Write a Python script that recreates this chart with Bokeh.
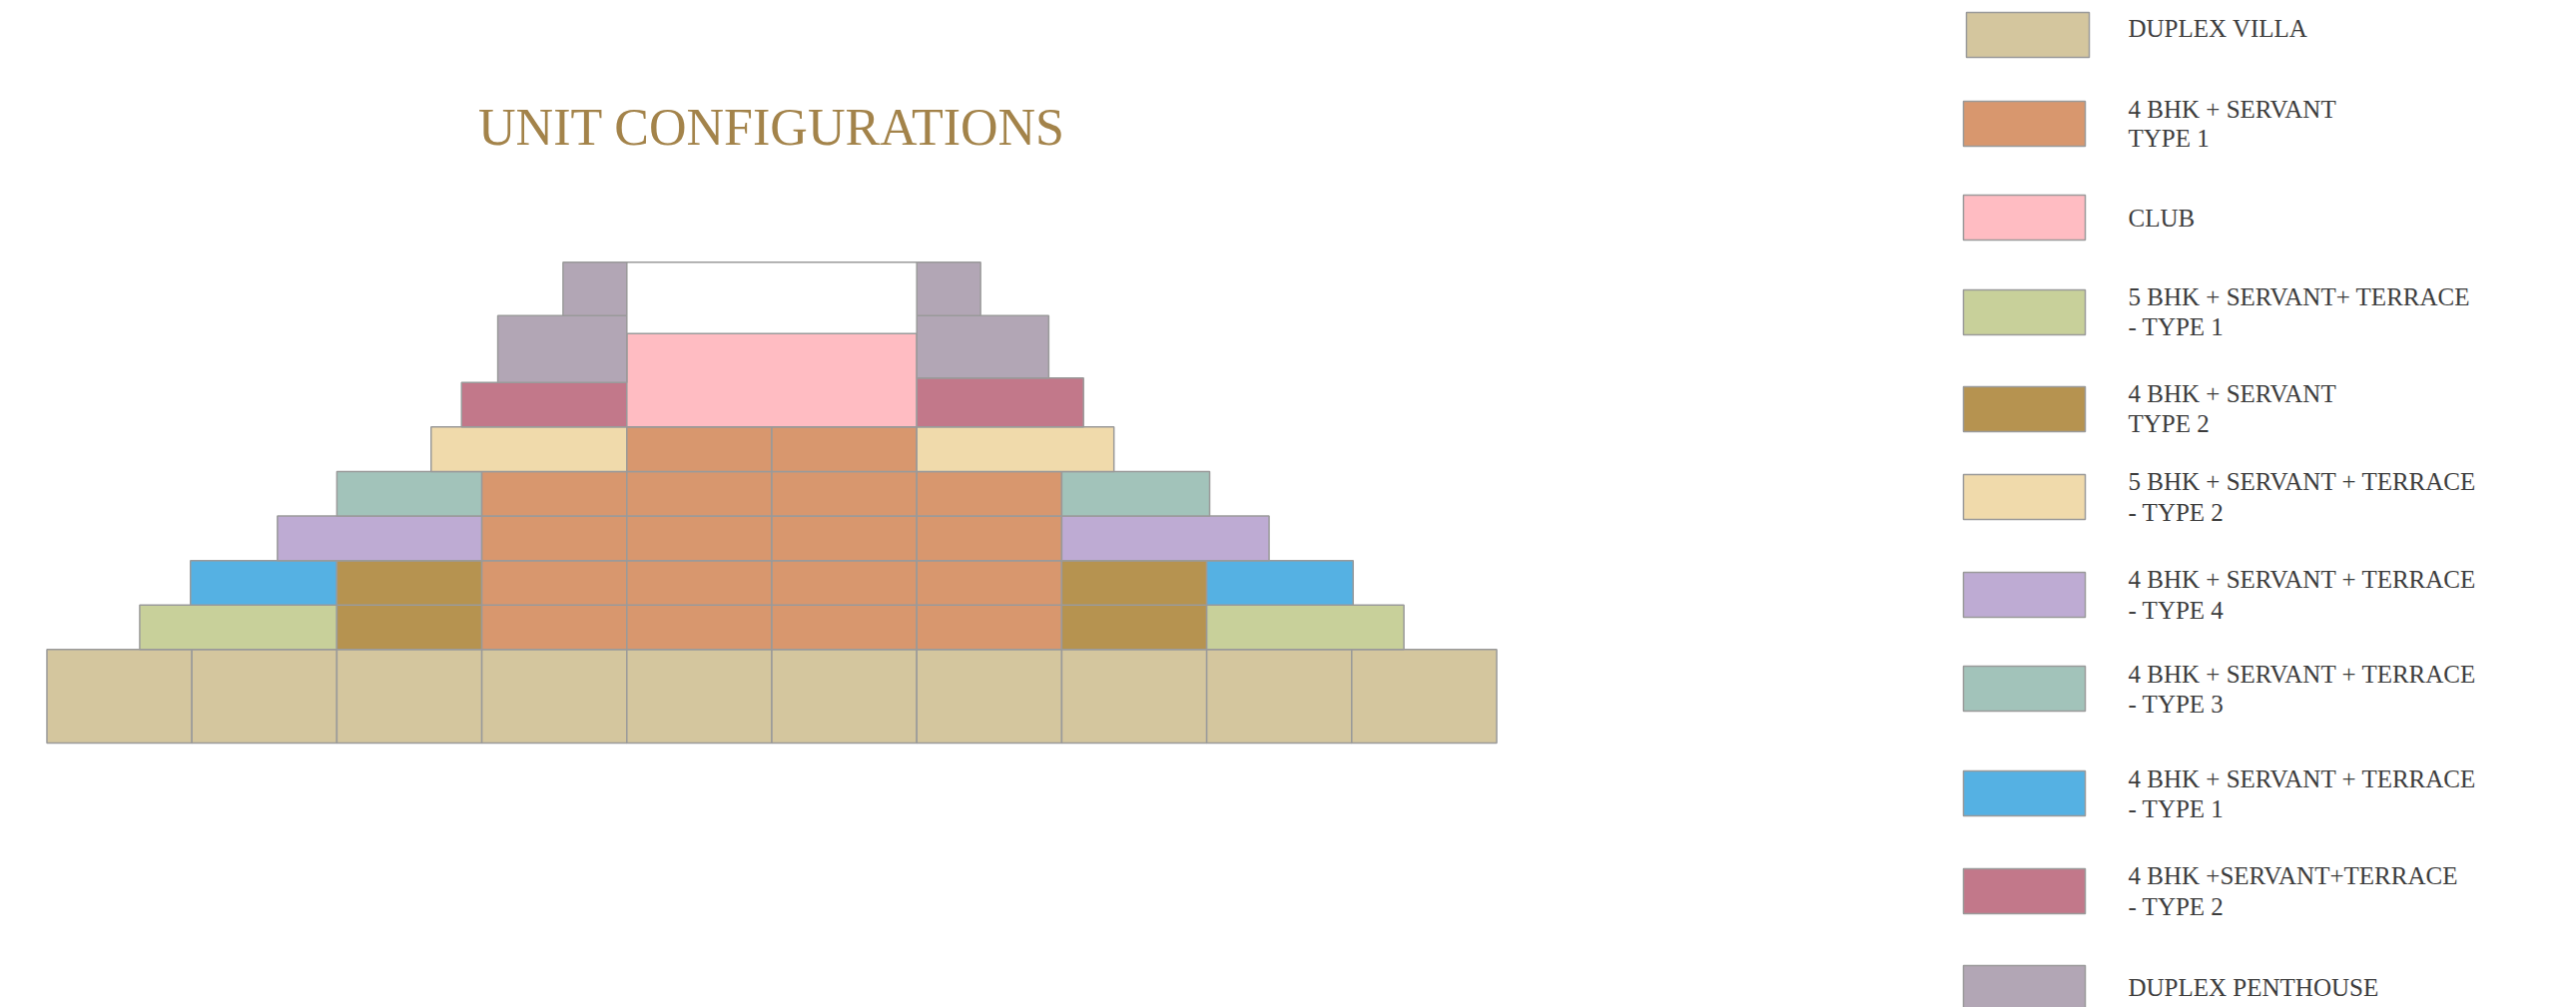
from bokeh.plotting import figure
from bokeh.models import Range1d
from bokeh.embed import file_html
from bokeh.resources import INLINE
from bokeh.core.properties import value

# ---------------- data ----------------
categories = [
    "DUPLEX VILLA",
    "4 BHK + SERVANT TYPE 1",
    "CLUB",
    "5 BHK + SERVANT+ TERRACE - TYPE 1",
    "4 BHK + SERVANT TYPE 2",
    "5 BHK + SERVANT + TERRACE - TYPE 2",
    "4 BHK + SERVANT + TERRACE - TYPE 4",
    "4 BHK + SERVANT + TERRACE - TYPE 3",
    "4 BHK + SERVANT + TERRACE - TYPE 1",
    "4 BHK +SERVANT+TERRACE - TYPE 2",
    "DUPLEX PENTHOUSE",
]
legend_lines = [
    ["DUPLEX VILLA"],
    ["4 BHK + SERVANT", "TYPE 1"],
    ["CLUB"],
    ["5 BHK + SERVANT+ TERRACE", "- TYPE 1"],
    ["4 BHK + SERVANT", "TYPE  2"],
    ["5 BHK  + SERVANT + TERRACE", " - TYPE 2"],
    ["4 BHK  + SERVANT + TERRACE", " - TYPE 4"],
    ["4 BHK  + SERVANT + TERRACE", " - TYPE 3"],
    ["4 BHK  + SERVANT + TERRACE", " - TYPE 1"],
    ["4 BHK +SERVANT+TERRACE", " - TYPE 2"],
    ["DUPLEX PENTHOUSE"],
]
colors = ["#D4C69E", "#D8976E", "#FFBCC2", "#C8D09A", "#B69350", "#F0DAAB",
          "#BEABD3", "#A2C3BA", "#55B1E3", "#C2788A", "#B2A6B5"]

# blocks of the stacked pyramid (x in unit columns, y in floor units)
block_cat = [0, 0, 0, 0, 0, 0, 0, 0, 0, 0,
             3, 4, 1, 1, 1, 1, 4, 3,
             8, 4, 1, 1, 1, 1, 4, 8,
             6, 1, 1, 1, 1, 6,
             7, 1, 1, 1, 1, 7,
             5, 1, 1, 5,
             9, 2, 9,
             10, 10,
             10, 10]
block_left = [0, 1, 2, 3, 4, 5, 6, 7, 8, 9,
              0.64, 2, 3, 4, 5, 6, 7, 8,
              0.99, 2, 3, 4, 5, 6, 7, 8,
              1.59, 3, 4, 5, 6, 7,
              2, 3, 4, 5, 6, 7,
              2.65, 4, 5, 6,
              2.86, 4, 6,
              3.11, 6,
              3.56, 6]
block_right = [1, 2, 3, 4, 5, 6, 7, 8, 9, 10,
               2, 3, 4, 5, 6, 7, 8, 9.36,
               2, 3, 4, 5, 6, 7, 8, 9.01,
               3, 4, 5, 6, 7, 8.43,
               3, 4, 5, 6, 7, 8.02,
               4, 5, 6, 7.36,
               4, 6, 7.15,
               4, 6.91,
               4, 6.44]
block_bottom = [0] * 10 + [2.1] * 8 + [3.1] * 8 + [4.1] * 6 + [5.1] * 6 + [6.1] * 4 + \
               [7.1, 7.1, 7.1] + [8.1, 8.2] + [9.6, 9.6]
block_top = [2.1] * 10 + [3.1] * 8 + [4.1] * 8 + [5.1] * 6 + [6.1] * 6 + [7.1] * 4 + \
            [8.1, 9.2, 8.2] + [9.6, 9.6] + [10.8, 10.8]
# empty outlined box above the club
box_left, box_right, box_bottom, box_top = [4], [6], [9.2], [10.8]

title_text = "UNIT CONFIGURATIONS"

# ---------------- layout (screen px) ----------------
W, H = 2580, 1009
swatch_top = [12, 101, 195, 290, 387, 475, 573, 667, 772, 870, 967]
swatch_h = 45
swatch_x = [(1969, 2092)] + [(1966, 2088)] * 10
text_x = 2131
text_baselines = [[35.5], [117, 146], [226], [305, 335], [402, 432], [490, 521],
                  [588, 619], [683, 713], [788, 818], [885, 916], [997]]
title_baseline = 144
LEG_SIZE, TITLE_SIZE = 25, 52
BASE_SHIFT = 0.32  # renderer draws text ~0.32em below the requested baseline

FONT = "Liberation Serif"
EDGE = "#9a9a9a"

p = figure(width=W, height=H,
           x_range=Range1d(-0.3202, 17.448), y_range=Range1d(-5.942, 16.682),
           x_axis_type=None, y_axis_type=None,
           output_backend="svg", toolbar_location=None, min_border=0)
p.grid.visible = False
p.outline_line_color = None
p.background_fill_color = "white"
p.border_fill_color = "white"
p.extra_x_ranges = {"px": Range1d(0, W)}
p.extra_y_ranges = {"px": Range1d(H, 0)}

# pyramid
p.quad(left=block_left, right=block_right, bottom=block_bottom, top=block_top,
       fill_color=[colors[c] for c in block_cat], line_color=EDGE, line_width=1.5)
p.quad(left=box_left, right=box_right, bottom=box_bottom, top=box_top,
       fill_color="white", line_color=EDGE, line_width=1.5)

# title centred over the pyramid
cx = (min(block_left) + max(block_right)) / 2
p.text(x=[cx], y=[title_baseline - BASE_SHIFT * TITLE_SIZE], text=[title_text],
       y_range_name="px", text_align="center", text_baseline="alphabetic",
       text_font=value(FONT), text_font_size=f"{TITLE_SIZE}px", text_color="#A3834A")

# legend
p.quad(left=[s[0] for s in swatch_x], right=[s[1] for s in swatch_x],
       top=swatch_top, bottom=[t + swatch_h for t in swatch_top],
       fill_color=colors, line_color=EDGE, line_width=1.5,
       x_range_name="px", y_range_name="px")
lx, ly, lt = [], [], []
for lines, bases in zip(legend_lines, text_baselines):
    for line, b in zip(lines, bases):
        lx.append(text_x)
        ly.append(b - BASE_SHIFT * LEG_SIZE)
        lt.append(line)
p.text(x=lx, y=ly, text=lt, x_range_name="px", y_range_name="px",
       text_align="left", text_baseline="alphabetic",
       text_font=value(FONT), text_font_size=f"{LEG_SIZE}px", text_color="#3c3c3c")

open("out.html", "w").write(file_html(p, INLINE))
